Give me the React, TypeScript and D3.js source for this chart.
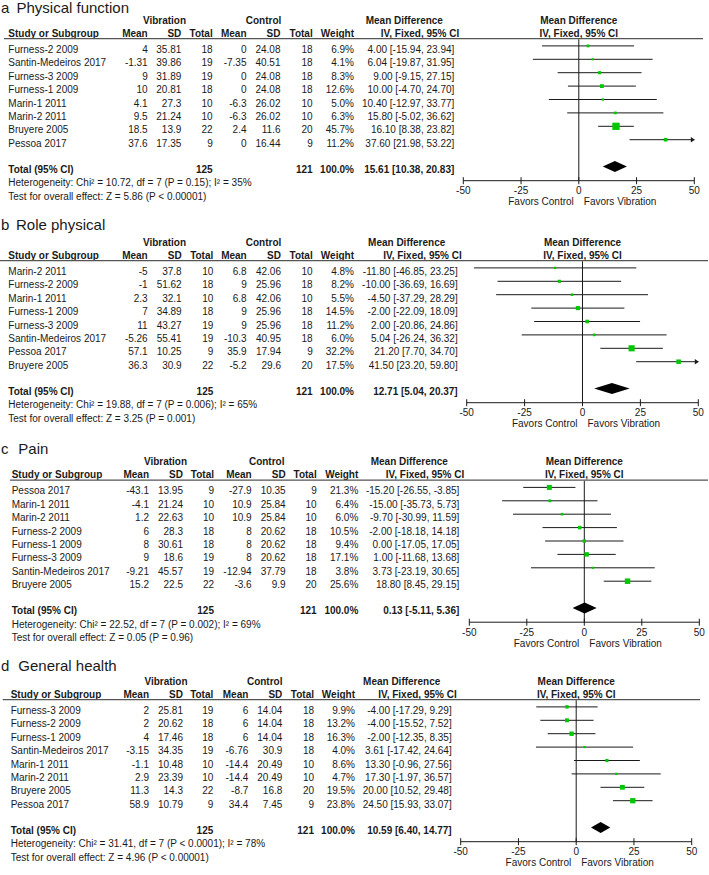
import React from 'react'
import * as d3 from 'd3'

// study, vib mean, vib sd, vib n, ctl mean, ctl sd, ctl n, weight %, MD, lower, upper
type Row = [string, number, number, number, number, number, number, number, number, number, number]

const physicalRows: Row[] = [
  ['Furness-2 2009', 4, 35.81, 18, 0, 24.08, 18, 6.9, 4.0, -15.94, 23.94],
  ['Santin-Medeiros 2017', -1.31, 39.86, 19, -7.35, 40.51, 18, 4.1, 6.04, -19.87, 31.95],
  ['Furness-3 2009', 9, 31.89, 19, 0, 24.08, 18, 8.3, 9.0, -9.15, 27.15],
  ['Furness-1 2009', 10, 20.81, 18, 0, 24.08, 18, 12.6, 10.0, -4.7, 24.7],
  ['Marin-1 2011', 4.1, 27.3, 10, -6.3, 26.02, 10, 5.0, 10.4, -12.97, 33.77],
  ['Marin-2 2011', 9.5, 21.24, 10, -6.3, 26.02, 10, 6.3, 15.8, -5.02, 36.62],
  ['Bruyere 2005', 18.5, 13.9, 22, 2.4, 11.6, 20, 45.7, 16.1, 8.38, 23.82],
  ['Pessoa 2017', 37.6, 17.35, 9, 0, 16.44, 9, 11.2, 37.6, 21.98, 53.22],
]

const roleRows: Row[] = [
  ['Marin-2 2011', -5, 37.8, 10, 6.8, 42.06, 10, 4.8, -11.8, -46.85, 23.25],
  ['Furness-2 2009', -1, 51.62, 18, 9, 25.96, 18, 8.2, -10.0, -36.69, 16.69],
  ['Marin-1 2011', 2.3, 32.1, 10, 6.8, 42.06, 10, 5.5, -4.5, -37.29, 28.29],
  ['Furness-1 2009', 7, 34.89, 18, 9, 25.96, 18, 14.5, -2.0, -22.09, 18.09],
  ['Furness-3 2009', 11, 43.27, 19, 9, 25.96, 18, 11.2, 2.0, -20.86, 24.86],
  ['Santin-Medeiros 2017', -5.26, 55.41, 19, -10.3, 40.95, 18, 6.0, 5.04, -26.24, 36.32],
  ['Pessoa 2017', 57.1, 10.25, 9, 35.9, 17.94, 9, 32.2, 21.2, 7.7, 34.7],
  ['Bruyere 2005', 36.3, 30.9, 22, -5.2, 29.6, 20, 17.5, 41.5, 23.2, 59.8],
]

const painRows: Row[] = [
  ['Pessoa 2017', -43.1, 13.95, 9, -27.9, 10.35, 9, 21.3, -15.2, -26.55, -3.85],
  ['Marin-1 2011', -4.1, 21.24, 10, 10.9, 25.84, 10, 6.4, -15.0, -35.73, 5.73],
  ['Marin-2 2011', 1.2, 22.63, 10, 10.9, 25.84, 10, 6.0, -9.7, -30.99, 11.59],
  ['Furness-2 2009', 6, 28.3, 18, 8, 20.62, 18, 10.5, -2.0, -18.18, 14.18],
  ['Furness-1 2009', 8, 30.61, 18, 8, 20.62, 18, 9.4, 0.0, -17.05, 17.05],
  ['Furness-3 2009', 9, 18.6, 19, 8, 20.62, 18, 17.1, 1.0, -11.68, 13.68],
  ['Santin-Medeiros 2017', -9.21, 45.57, 19, -12.94, 37.79, 18, 3.8, 3.73, -23.19, 30.65],
  ['Bruyere 2005', 15.2, 22.5, 22, -3.6, 9.9, 20, 25.6, 18.8, 8.45, 29.15],
]

const healthRows: Row[] = [
  ['Furness-3 2009', 2, 25.81, 19, 6, 14.04, 18, 9.9, -4.0, -17.29, 9.29],
  ['Furness-2 2009', 2, 20.62, 18, 6, 14.04, 18, 13.2, -4.0, -15.52, 7.52],
  ['Furness-1 2009', 4, 17.46, 18, 6, 14.04, 18, 16.3, -2.0, -12.35, 8.35],
  ['Santin-Medeiros 2017', -3.15, 34.35, 19, -6.76, 30.9, 18, 4.0, 3.61, -17.42, 24.64],
  ['Marin-1 2011', -1.1, 10.48, 10, -14.4, 20.49, 10, 8.6, 13.3, -0.96, 27.56],
  ['Marin-2 2011', 2.9, 23.39, 10, -14.4, 20.49, 10, 4.7, 17.3, -1.97, 36.57],
  ['Bruyere 2005', 11.3, 14.3, 22, -8.7, 16.8, 20, 19.5, 20.0, 10.52, 29.48],
  ['Pessoa 2017', 58.9, 10.79, 9, 34.4, 7.45, 9, 23.8, 24.5, 15.93, 33.07],
]

const panelRows = [physicalRows, roleRows, painRows, healthRows]
const letters = ['a', 'b', 'c', 'd']
const titles = ['Physical function', 'Role physical', 'Pain', 'General health']
// pooled MD, lower, upper
const pooled: [number, number, number][] = [
  [15.61, 10.38, 20.83],
  [12.71, 5.04, 20.37],
  [0.13, -5.11, 5.36],
  [10.59, 6.4, 14.77],
]
const vibTotals = [125, 125, 125, 125]
const ctlTotals = [121, 121, 121, 121]
const heterogeneity = [
  'Heterogeneity: Chi² = 10.72, df = 7 (P = 0.15); I² = 35%',
  'Heterogeneity: Chi² = 19.88, df = 7 (P = 0.006); I² = 65%',
  'Heterogeneity: Chi² = 22.52, df = 7 (P = 0.002); I² = 69%',
  'Heterogeneity: Chi² = 31.41, df = 7 (P < 0.0001); I² = 78%',
]
const overall = [
  'Test for overall effect: Z = 5.86 (P < 0.00001)',
  'Test for overall effect: Z = 3.25 (P = 0.001)',
  'Test for overall effect: Z = 0.05 (P = 0.96)',
  'Test for overall effect: Z = 4.96 (P < 0.00001)',
]
const ticks = [-50, -25, 0, 25, 50]

// each panel was a separate image, so the columns sit slightly differently
const layouts = [
  { dy: 0, titleY: 12.7, tx: 16.5, study: 8.3, vm: 147.7, vs: 181.3, vn: 212.7, cm: 246.5, cs: 280.5, cn: 312.7, wt: 354, vibC: 164.5, ctlC: 263.5, md: 454.3, iv: 459.3, px: [463.3, 694.3], lx: [4, 703] },
  { dy: 222, titleY: 230.4, tx: 16, study: 8.3, vm: 147.7, vs: 181.7, vn: 213.3, cm: 246.7, cs: 281, cn: 312.7, wt: 354, vibC: 164.5, ctlC: 263.5, md: 457.7, iv: 461.7, px: [466.7, 698.3], lx: [0, 708] },
  { dy: 441.5, titleY: 454.4, tx: 18.3, study: 11.7, vm: 149, vs: 183, vn: 214, cm: 251.7, cs: 285.7, cn: 316.7, wt: 358.3, vibC: 165.5, ctlC: 266.7, md: 459.3, iv: 464.3, px: [469.3, 699.3], lx: [10, 708] },
  { dy: 661, titleY: 671.4, tx: 18.3, study: 10.7, vm: 149, vs: 183, vn: 213.3, cm: 248.3, cs: 282.3, cn: 314, wt: 355, vibC: 166, ctlC: 264.7, md: 451.7, iv: 456.7, px: [460.7, 691.7], lx: [2.7, 700] },
]

const FONT = '"Liberation Sans", Arial, Helvetica, sans-serif'
const INK = '#1a1a1a'
const GREEN = '#00c800'

const sizeScale = d3.scaleSqrt().domain([0, 100]).range([0, 10.8])
const fmt2 = d3.format('.2f')
const fmt1 = d3.format('.1f')
const md = (v: number) => fmt2(v).replace('−', '-')

function Panel({ idx }: { idx: number }) {
  const L = layouts[idx]
  const rows = panelRows[idx]
  const [pm, pl, ph] = pooled[idx]
  const x = d3.scaleLinear().domain([-50, 50]).range(L.px)
  const y = d3.scaleLinear().domain([0, rows.length - 1]).range([45.9, 45.9 + 13.4 * (rows.length - 1)])

  const groupY = 23.6
  const headY = 36.9
  const ruleY = 38.6
  const totalY = 172.9
  const diamondY = 166.5
  const axisY = 180.7

  const num = { fontSize: 10, fill: INK, textAnchor: 'end' as const }
  const bold = { fontWeight: 700 }

  return (
    <g transform={`translate(0,${L.dy})`} fontFamily={FONT}>
      {/* column headers */}
      <g fontWeight={700} fontSize={10} fill={INK}>
        <text x={L.vibC} y={groupY} textAnchor="middle">Vibration</text>
        <text x={L.ctlC} y={groupY} textAnchor="middle">Control</text>
        <text x={L.iv - 55} y={groupY} textAnchor="middle">Mean Difference</text>
        <text x={x(0)} y={groupY} textAnchor="middle">Mean Difference</text>
        <text x={L.study} y={headY}>Study or Subgroup</text>
        <text x={L.vm} y={headY} textAnchor="end">Mean</text>
        <text x={L.vs} y={headY} textAnchor="end">SD</text>
        <text x={L.vn} y={headY} textAnchor="end">Total</text>
        <text x={L.cm} y={headY} textAnchor="end">Mean</text>
        <text x={L.cs} y={headY} textAnchor="end">SD</text>
        <text x={L.cn} y={headY} textAnchor="end">Total</text>
        <text x={L.wt} y={headY} textAnchor="end">Weight</text>
        <text x={L.iv} y={headY} textAnchor="end">IV, Fixed, 95% CI</text>
        <text x={x(0)} y={headY} textAnchor="middle">IV, Fixed, 95% CI</text>
      </g>
      <line x1={L.lx[0]} x2={L.lx[1]} y1={ruleY} y2={ruleY} stroke="#555" strokeWidth={1.4} />

      {/* zero line */}
      <line x1={x(0)} x2={x(0)} y1={ruleY + 0.7} y2={axisY} stroke={INK} strokeWidth={1} />

      {rows.map((r, i) => {
        const yy = y(i)
        const ty = yy + 7
        const lo = Math.max(-50, r[9])
        const hi = Math.min(50, r[10])
        const s = Math.max(2, sizeScale(r[7]))
        return (
          <g key={r[0]}>
            <text x={L.study} y={ty} fontSize={10} fill={INK}>{r[0]}</text>
            <text x={L.vm} y={ty} {...num}>{String(r[1])}</text>
            <text x={L.vs} y={ty} {...num}>{String(r[2])}</text>
            <text x={L.vn} y={ty} {...num}>{String(r[3])}</text>
            <text x={L.cm} y={ty} {...num}>{String(r[4])}</text>
            <text x={L.cs} y={ty} {...num}>{String(r[5])}</text>
            <text x={L.cn} y={ty} {...num}>{String(r[6])}</text>
            <text x={L.wt} y={ty} {...num}>{fmt1(r[7]) + '%'}</text>
            <text x={L.md} y={ty} {...num}>{`${md(r[8])} [${md(r[9])}, ${md(r[10])}]`}</text>
            <line x1={x(lo)} x2={x(hi)} y1={yy} y2={yy} stroke={INK} strokeWidth={1} />
            {r[10] > 50 && (
              <path d={`M${x(50) - 3.5},${yy - 2.8}L${x(50) + 0.5},${yy}L${x(50) - 3.5},${yy + 2.8}Z`} fill={INK} />
            )}
            <rect x={x(r[8]) - s / 2} y={yy - s / 2} width={s} height={s} fill={GREEN} />
          </g>
        )
      })}

      {/* totals */}
      <g fontSize={10} fill={INK} {...bold}>
        <text x={L.study} y={totalY}>Total (95% CI)</text>
        <text x={L.vn} y={totalY} textAnchor="end">{vibTotals[idx]}</text>
        <text x={L.cn} y={totalY} textAnchor="end">{ctlTotals[idx]}</text>
        <text x={L.wt} y={totalY} textAnchor="end">100.0%</text>
        <text x={L.md} y={totalY} textAnchor="end">{`${md(pm)} [${md(pl)}, ${md(ph)}]`}</text>
      </g>
      <path
        d={`M${x(pl)},${diamondY}L${x(pm)},${diamondY - 5.6}L${x(ph)},${diamondY}L${x(pm)},${diamondY + 5.6}Z`}
        fill="#000"
      />
      <text x={L.study} y={186.3} fontSize={10} fill={INK}>{heterogeneity[idx]}</text>
      <text x={L.study} y={199.6} fontSize={10} fill={INK}>{overall[idx]}</text>

      {/* axis */}
      <line x1={x(-50)} x2={x(50)} y1={axisY} y2={axisY} stroke={INK} strokeWidth={1} />
      {ticks.map((t) => (
        <g key={t}>
          <line x1={x(t)} x2={x(t)} y1={axisY - 3.5} y2={axisY + 3.5} stroke={INK} strokeWidth={1} />
          <text x={x(t)} y={194.3} fontSize={10} fill={INK} textAnchor="middle">{String(t)}</text>
        </g>
      ))}
      <text x={x(0) - 5} y={205.3} fontSize={10} fill={INK} textAnchor="end">Favors Control</text>
      <text x={x(0) + 5} y={205.3} fontSize={10} fill={INK}>Favors Vibration</text>

      {/* panel title */}
      <g transform={`translate(0,${-L.dy})`} fontSize={15} fill={INK}>
        <text x={1} y={L.titleY}>{letters[idx]}</text>
        <text x={L.tx} y={L.titleY}>{titles[idx]}</text>
      </g>
    </g>
  )
}

export default function App() {
  return (
    <svg
      width={709}
      height={875}
      viewBox="0 0 709 875"
      style={{ position: 'absolute', left: 0, top: 0, background: '#fff' }}
      xmlns="http://www.w3.org/2000/svg"
    >
      <rect width={709} height={875} fill="#fff" />
      {layouts.map((_l, i) => (
        <Panel key={i} idx={i} />
      ))}
    </svg>
  )
}
